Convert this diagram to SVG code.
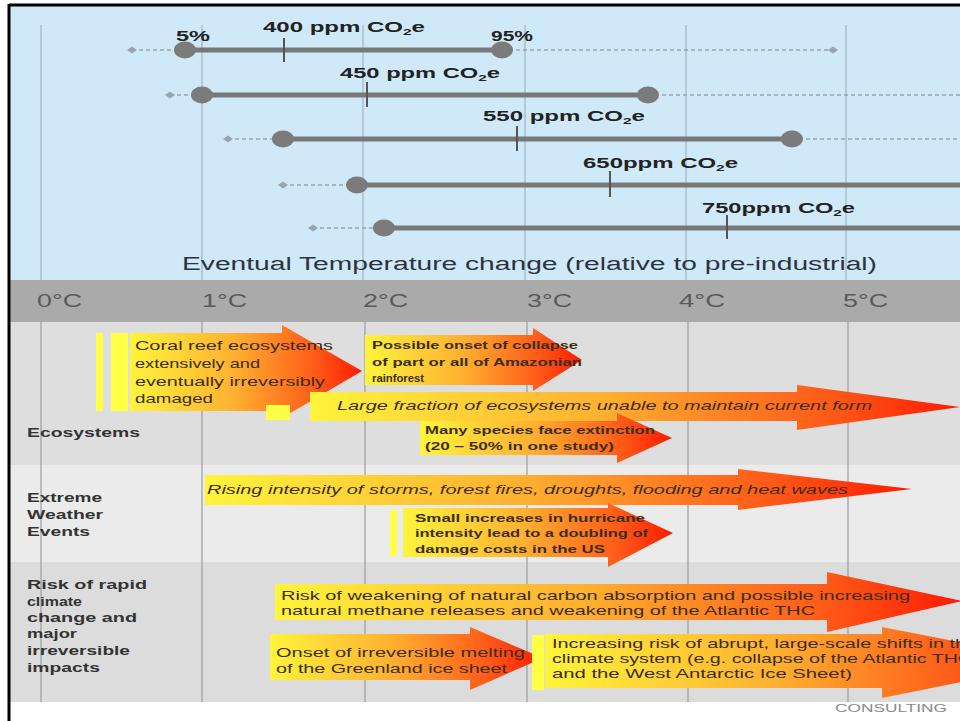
<svg xmlns="http://www.w3.org/2000/svg" width="960" height="721" viewBox="0 0 960 721">
<defs>
<linearGradient id="grad" x1="0" y1="0" x2="1" y2="0">
<stop offset="0" stop-color="#fff43c"/>
<stop offset="0.45" stop-color="#ffb030"/>
<stop offset="0.8" stop-color="#ff5a18"/>
<stop offset="1" stop-color="#ff1a00"/>
</linearGradient>
<style>
text{font-family:"Liberation Sans",Arial,sans-serif}
.ppm{font-weight:bold;font-size:14px;fill:#222}
.sub{font-size:9px}
.deg{font-size:18px;fill:#5a5a5a}
.rl{font-weight:bold;font-size:13px;fill:#333}
.at{font-size:13px;fill:#3a2e18}
.as{font-size:11px;fill:#3a2e18;font-weight:bold}
.it{font-style:italic}
.bar{stroke:#787878;stroke-width:5;fill:none}
.dash{stroke:#98a4ae;stroke-width:1.3;stroke-dasharray:4 3;fill:none}
.dot{fill:#7b7b7b}
.dia{fill:#98a4ae}
.tick{stroke:#555;stroke-width:2}
.gb{stroke:#a8bfcc;stroke-width:1.5}
.gg{stroke:#9c9c9c;stroke-width:1.2}
.arrow{fill:url(#grad)}
.yb{fill:#ffff46}
</style>
</defs>
<rect x="0" y="0" width="960" height="721" fill="#ffffff"/>
<rect x="9" y="5" width="951" height="275" fill="#cfe9f8"/>
<rect x="9" y="280" width="951" height="42" fill="#aaaaaa"/>
<rect x="9" y="322" width="951" height="143" fill="#dedede"/>
<rect x="9" y="465" width="951" height="97" fill="#ebebeb"/>
<rect x="9" y="562" width="951" height="140" fill="#dcdcdc"/>
<g id="grid">
<line class="gb" x1="41" y1="25" x2="41" y2="280"/>
<line class="gb" x1="202" y1="25" x2="202" y2="280"/>
<line class="gb" x1="363" y1="25" x2="363" y2="280"/>
<line class="gb" x1="525" y1="25" x2="525" y2="280"/>
<line class="gb" x1="686" y1="25" x2="686" y2="280"/>
<line class="gb" x1="846" y1="25" x2="846" y2="280"/>
<line class="gg" x1="41" y1="322" x2="41" y2="702"/>
<line class="gg" x1="202" y1="322" x2="202" y2="702"/>
<line class="gg" x1="365" y1="322" x2="365" y2="702"/>
<line class="gg" x1="527" y1="322" x2="527" y2="702"/>
<line class="gg" x1="688" y1="322" x2="688" y2="702"/>
<line class="gg" x1="848" y1="322" x2="848" y2="702"/>
</g>
<line x1="9" y1="5" x2="960" y2="5" stroke="#000" stroke-width="3"/>
<line x1="9" y1="4" x2="9" y2="721" stroke="#000" stroke-width="3"/>
<g id="connectors"></g>

<g id="ppm-400">
<line class="dash" x1="132" y1="50" x2="185" y2="50"/>
<line class="dash" x1="502" y1="50" x2="833" y2="50"/>
<path class="dia" d="M127 50 L132 46.5 L137 50 L132 53.5Z"/>
<path class="dia" d="M828 50 L833 46.5 L838 50 L833 53.5Z"/>
<line class="bar" x1="185" y1="50" x2="502" y2="50"/>
<ellipse class="dot" cx="185" cy="50" rx="11" ry="8.5"/>
<ellipse class="dot" cx="502" cy="50" rx="11" ry="8.5"/>
<line class="tick" x1="284" y1="38" x2="284" y2="62"/>
<text class="ppm" x="176" y="41" textLength="34" lengthAdjust="spacingAndGlyphs">5%</text>
<text class="ppm" x="263" y="32" textLength="162" lengthAdjust="spacingAndGlyphs">400 ppm CO<tspan class="sub" dy="3">2</tspan><tspan dy="-3">e</tspan></text>
<text class="ppm" x="491" y="41" textLength="42" lengthAdjust="spacingAndGlyphs">95%</text>
</g>
<g id="ppm-450">
<line class="dash" x1="170" y1="95" x2="202" y2="95"/>
<line class="dash" x1="648" y1="95" x2="960" y2="95"/>
<path class="dia" d="M165 95 L170 91.5 L175 95 L170 98.5Z"/>
<line class="bar" x1="202" y1="95" x2="648" y2="95"/>
<ellipse class="dot" cx="202" cy="95" rx="11" ry="8.5"/>
<ellipse class="dot" cx="648" cy="95" rx="11" ry="8.5"/>
<line class="tick" x1="367" y1="82" x2="367" y2="107"/>
<text class="ppm" x="340" y="78" textLength="160" lengthAdjust="spacingAndGlyphs">450 ppm CO<tspan class="sub" dy="3">2</tspan><tspan dy="-3">e</tspan></text>
</g>
<g id="ppm-550">
<line class="dash" x1="228" y1="139" x2="283" y2="139"/>
<line class="dash" x1="792" y1="139" x2="960" y2="139"/>
<path class="dia" d="M223 139 L228 135.5 L233 139 L228 142.5Z"/>
<line class="bar" x1="283" y1="139" x2="792" y2="139"/>
<ellipse class="dot" cx="283" cy="139" rx="11" ry="8.5"/>
<ellipse class="dot" cx="792" cy="139" rx="11" ry="8.5"/>
<line class="tick" x1="517" y1="126" x2="517" y2="151"/>
<text class="ppm" x="483" y="121" textLength="162" lengthAdjust="spacingAndGlyphs">550 ppm CO<tspan class="sub" dy="3">2</tspan><tspan dy="-3">e</tspan></text>
</g>
<g id="ppm-650">
<line class="dash" x1="283" y1="185" x2="357" y2="185"/>
<path class="dia" d="M278 185 L283 181.5 L288 185 L283 188.5Z"/>
<line class="bar" x1="357" y1="185" x2="960" y2="185"/>
<ellipse class="dot" cx="357" cy="185" rx="11" ry="8.5"/>
<line class="tick" x1="610" y1="171" x2="610" y2="197"/>
<text class="ppm" x="583" y="168" textLength="155" lengthAdjust="spacingAndGlyphs">650ppm CO<tspan class="sub" dy="3">2</tspan><tspan dy="-3">e</tspan></text>
</g>
<g id="ppm-750">
<line class="dash" x1="313" y1="228" x2="384" y2="228"/>
<path class="dia" d="M308 228 L313 224.5 L318 228 L313 231.5Z"/>
<line class="bar" x1="384" y1="228" x2="960" y2="228"/>
<ellipse class="dot" cx="384" cy="228" rx="11" ry="8.5"/>
<line class="tick" x1="727" y1="215" x2="727" y2="239"/>
<text class="ppm" x="702" y="213" textLength="153" lengthAdjust="spacingAndGlyphs">750ppm CO<tspan class="sub" dy="3">2</tspan><tspan dy="-3">e</tspan></text>
</g>
<g id="axis-title">
<text x="182" y="270" font-size="18" fill="#2b3440" textLength="695" lengthAdjust="spacingAndGlyphs">Eventual Temperature change (relative to pre-industrial)</text>
</g>
<g id="axis-labels">
<text class="deg" x="37" y="307" textLength="45" lengthAdjust="spacingAndGlyphs">0°C</text>
<text class="deg" x="202" y="307" textLength="45" lengthAdjust="spacingAndGlyphs">1°C</text>
<text class="deg" x="363" y="307" textLength="45" lengthAdjust="spacingAndGlyphs">2°C</text>
<text class="deg" x="527" y="307" textLength="45" lengthAdjust="spacingAndGlyphs">3°C</text>
<text class="deg" x="679" y="307" textLength="46" lengthAdjust="spacingAndGlyphs">4°C</text>
<text class="deg" x="843" y="307" textLength="45" lengthAdjust="spacingAndGlyphs">5°C</text>
</g>

<g id="label-ecosystems">
<text class="rl" x="27" y="437" textLength="113" lengthAdjust="spacingAndGlyphs">Ecosystems</text>
</g>
<g id="label-weather">
<text class="rl" x="27" y="502" textLength="75" lengthAdjust="spacingAndGlyphs">Extreme</text>
<text class="rl" x="27" y="519" textLength="76" lengthAdjust="spacingAndGlyphs">Weather</text>
<text class="rl" x="27" y="536" textLength="63" lengthAdjust="spacingAndGlyphs">Events</text>
</g>
<g id="label-risk">
<text class="rl" x="27" y="589" textLength="120" lengthAdjust="spacingAndGlyphs">Risk of rapid</text>
<text class="rl" x="27" y="606" textLength="55" lengthAdjust="spacingAndGlyphs">climate</text>
<text class="rl" x="27" y="622" textLength="110" lengthAdjust="spacingAndGlyphs">change and</text>
<text class="rl" x="27" y="638" textLength="50" lengthAdjust="spacingAndGlyphs">major</text>
<text class="rl" x="27" y="655" textLength="103" lengthAdjust="spacingAndGlyphs">irreversible</text>
<text class="rl" x="27" y="672" textLength="73" lengthAdjust="spacingAndGlyphs">impacts</text>
</g>

<g id="arrow-coral">
<rect class="yb" x="96" y="333" width="7" height="78"/>
<rect class="yb" x="111" y="333" width="17" height="78"/>
<polygon class="arrow" points="130,333 282,333 282,325 362,371 282,418 282,411 130,411"/>
<text class="at" x="135" y="350" textLength="198" lengthAdjust="spacingAndGlyphs">Coral reef ecosystems</text>
<text class="at" x="135" y="368" textLength="125" lengthAdjust="spacingAndGlyphs">extensively and</text>
<text class="at" x="135" y="386" textLength="190" lengthAdjust="spacingAndGlyphs">eventually irreversibly</text>
<text class="at" x="135" y="403" textLength="78" lengthAdjust="spacingAndGlyphs">damaged</text>
</g>
<g id="arrow-amazon">
<polygon class="arrow" points="365,335 533,335 533,328 582,360 533,391 533,385 365,385"/>
<text class="as" x="372" y="349" textLength="206" lengthAdjust="spacingAndGlyphs">Possible onset of collapse</text>
<text class="as" x="372" y="366" textLength="210" lengthAdjust="spacingAndGlyphs">of part or all of Amazonian</text>
<text class="as" x="372" y="382" textLength="52" lengthAdjust="spacingAndGlyphs">rainforest</text>
</g>
<g id="arrow-fraction">
<rect class="yb" x="266" y="405" width="24" height="15"/>
<polygon class="arrow" points="310,392 797,392 797,385 960,407 797,430 797,421 310,421"/>
<text class="at it" x="337" y="410" textLength="535" lengthAdjust="spacingAndGlyphs">Large fraction of ecosystems unable to maintain current form</text>
</g>
<g id="arrow-species">
<polygon class="arrow" points="420,421 617,421 617,413 672,438 617,463 617,455 420,455"/>
<text class="as" x="425" y="434" textLength="230" lengthAdjust="spacingAndGlyphs">Many species face extinction</text>
<text class="as" x="425" y="450" textLength="189" lengthAdjust="spacingAndGlyphs">(20 – 50% in one study)</text>
</g>

<g id="arrow-storms">
<polygon class="arrow" points="205,475 738,475 738,469 912,489 738,510 738,505 205,505"/>
<text class="at it" x="207" y="494" textLength="641" lengthAdjust="spacingAndGlyphs">Rising intensity of storms, forest fires, droughts, flooding and heat waves</text>
</g>
<g id="arrow-hurricane">
<rect class="yb" x="390" y="510" width="7" height="46"/>
<polygon class="arrow" points="403,508 608,508 608,503 673,533 608,567 608,557 403,557"/>
<text class="as" x="415" y="522" textLength="230" lengthAdjust="spacingAndGlyphs">Small increases in hurricane</text>
<text class="as" x="415" y="537" textLength="233" lengthAdjust="spacingAndGlyphs">intensity lead to a doubling of</text>
<text class="as" x="415" y="553" textLength="190" lengthAdjust="spacingAndGlyphs">damage costs in the US</text>
</g>

<g id="arrow-carbon">
<polygon class="arrow" points="275,584 827,584 827,572 962,601 827,632 827,620 275,620"/>
<text class="at" x="281" y="600" textLength="629" lengthAdjust="spacingAndGlyphs">Risk of weakening of natural carbon absorption and possible increasing</text>
<text class="at" x="281" y="615" textLength="534" lengthAdjust="spacingAndGlyphs">natural methane releases and weakening of the Atlantic THC</text>
</g>
<g id="arrow-greenland">
<polygon class="arrow" points="270,634 470,634 470,627 543,658 470,690 470,680 270,680"/>
<text class="at" x="276" y="657" textLength="249" lengthAdjust="spacingAndGlyphs">Onset of irreversible melting</text>
<text class="at" x="276" y="673" textLength="231" lengthAdjust="spacingAndGlyphs">of the Greenland ice sheet</text>
</g>
<g id="arrow-abrupt">
<rect class="yb" x="532" y="635" width="12" height="55"/>
<polygon class="arrow" points="545,634 882,634 882,627 1060,662 882,698 882,688 545,688"/>
<text class="at" x="552" y="648" textLength="425" lengthAdjust="spacingAndGlyphs">Increasing risk of abrupt, large-scale shifts in the</text>
<text class="at" x="552" y="663" textLength="420" lengthAdjust="spacingAndGlyphs">climate system (e.g. collapse of the Atlantic THC</text>
<text class="at" x="552" y="678" textLength="300" lengthAdjust="spacingAndGlyphs">and the West Antarctic Ice Sheet)</text>
</g>
<g id="footer">
<text x="835" y="712" font-size="10" fill="#8a8a8a" textLength="112" lengthAdjust="spacingAndGlyphs">CONSULTING</text>
</g>
</svg>
